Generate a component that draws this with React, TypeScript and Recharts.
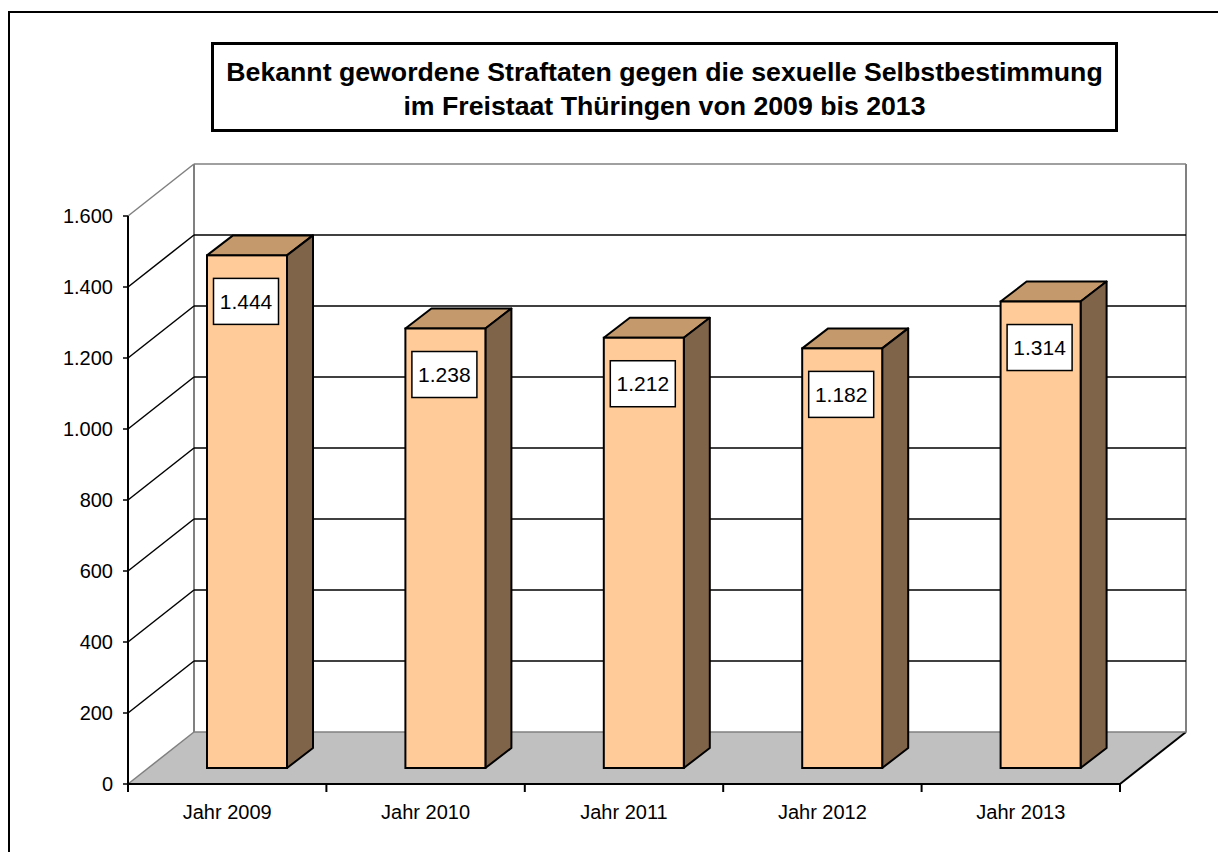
import React from 'react';
import { BarChart, Bar, XAxis, YAxis, CartesianGrid } from 'recharts';

const categories = ['Jahr 2009', 'Jahr 2010', 'Jahr 2011', 'Jahr 2012', 'Jahr 2013'];
const values = [1444, 1238, 1212, 1182, 1314];
const yTicks = [0, 200, 400, 600, 800, 1000, 1200, 1400, 1600];
const titleLines = [
  'Bekannt gewordene Straftaten gegen die sexuelle Selbstbestimmung',
  'im Freistaat Thüringen von 2009 bis 2013',
];

const data = categories.map((name, i) => ({ name, value: values[i] }));

const FONT = "Arial, 'Liberation Sans', sans-serif";
const fmt = (v: number) => String(v).replace(/\B(?=(\d{3})+(?!\d))/g, '.');

// 3D projection constants
const DX = 66; // wall depth
const DY = 52;
const BX = 20; // bar placement inside depth
const BY = 16;
const BDX = 26; // bar depth
const BDY = 20;

const GridLine = (p: any) => {
  const { x1, y1, x2 } = p;
  const pts: number[] = p.horizontalPoints && p.horizontalPoints.length ? p.horizontalPoints : [];
  const bottom = pts.length ? Math.max(...pts) : p.y + p.height;
  const top = pts.length ? Math.min(...pts) : p.y;
  const isBottom = Math.abs(y1 - bottom) < 0.5;
  const isTop = Math.abs(y1 - top) < 0.5;
  const col = isBottom || isTop ? '#808080' : '#000000';
  return (
    <g key={p.key}>
      {isBottom && (
        <g>
          <polygon
            points={`${x1},${y1} ${x2},${y1} ${x2 + DX},${y1 - DY} ${x1 + DX},${y1 - DY}`}
            fill="#C0C0C0"
            stroke="none"
          />
          <line x1={x2} y1={y1} x2={x2 + DX} y2={y1 - DY} stroke="#000" strokeWidth={2} />
          <line x1={x1 + DX} y1={y1 - DY} x2={x1 + DX} y2={top - DY} stroke="#808080" strokeWidth={2} />
          <line x1={x2 + DX} y1={y1 - DY} x2={x2 + DX} y2={top - DY} stroke="#808080" strokeWidth={2} />
        </g>
      )}
      <line x1={x1} y1={y1} x2={x1 + DX} y2={y1 - DY} stroke={col} strokeWidth={1.5} />
      <line x1={x1 + DX} y1={y1 - DY} x2={x2 + DX} y2={y1 - DY} stroke={col} strokeWidth={1.5} />
    </g>
  );
};

const Bar3D = (p: any) => {
  const { x, y, width, height, payload } = p;
  const fx = x + BX;
  const fy = y - BY;
  const v = payload ? payload.value : p.value;
  const cx = fx + width / 2 - 1;
  const boxTop = fy + 23;
  return (
    <g>
      <polygon
        points={`${fx},${fy} ${fx + BDX},${fy - BDY} ${fx + width + BDX},${fy - BDY} ${fx + width},${fy}`}
        fill="#C49A6C"
        stroke="#000"
        strokeWidth={2}
        strokeLinejoin="round"
      />
      <polygon
        points={`${fx + width},${fy} ${fx + width + BDX},${fy - BDY} ${fx + width + BDX},${fy + height - BDY} ${fx + width},${fy + height}`}
        fill="#80644A"
        stroke="#000"
        strokeWidth={2}
        strokeLinejoin="round"
      />
      <rect x={fx} y={fy} width={width} height={height} fill="#FFCC99" stroke="#000" strokeWidth={2} />
      <rect x={cx - 32.5} y={boxTop} width={65} height={46} fill="#FFFFFF" stroke="#000" strokeWidth={1.5} />
      <text
        x={cx}
        y={boxTop + 30.5}
        textAnchor="middle"
        fontSize={21}
        fontFamily={FONT}
        fill="#000"
      >
        {fmt(v)}
      </text>
    </g>
  );
};

const XTick = (p: any) => {
  const { x, y, payload, index } = p;
  const half = payload && payload.offset ? payload.offset : p.width ? p.width / categories.length / 2 : 99.2;
  const ay = y - 8;
  return (
    <g>
      <line x1={x - half} y1={ay} x2={x - half} y2={ay + 8} stroke="#000" strokeWidth={2} />
      {index === categories.length - 1 && (
        <line x1={x + half} y1={ay} x2={x + half} y2={ay + 8} stroke="#000" strokeWidth={2} />
      )}
      <text x={x} y={ay + 35} textAnchor="middle" fontSize={20} fontFamily={FONT} fill="#000">
        {payload.value}
      </text>
    </g>
  );
};

export default function App() {
  return (
    <div
      style={{
        position: 'absolute',
        left: 0,
        top: 0,
        width: 1218,
        height: 852,
        overflow: 'hidden',
        background: '#fff',
      }}
    >
      <div
        style={{
          position: 'absolute',
          left: 8,
          top: 11,
          width: 1400,
          height: 1000,
          borderLeft: '2px solid #000',
          borderTop: '2px solid #000',
          boxSizing: 'border-box',
        }}
      />
      <div
        style={{
          position: 'absolute',
          left: 211,
          top: 42,
          width: 907,
          height: 90,
          border: '3px solid #000',
          boxSizing: 'border-box',
          background: '#fff',
          fontFamily: FONT,
          fontWeight: 'bold',
          fontSize: 26.7,
          lineHeight: '34px',
          textAlign: 'center',
          paddingTop: 10,
          color: '#000',
        }}
      >
        {titleLines.map((t) => (
          <div key={t}>{t}</div>
        ))}
      </div>
      <div style={{ position: 'absolute', left: 0, top: 0 }}>
        <BarChart
          width={1218}
          height={852}
          data={data}
          margin={{ top: 216, right: 98, bottom: 38, left: 68 }}
        >
          <CartesianGrid horizontal={GridLine as any} vertical={false} />
          <XAxis
            dataKey="name"
            interval={0}
            height={30}
            tickSize={8}
            tickMargin={0}
            tickLine={false}
            axisLine={{ stroke: '#000', strokeWidth: 2 }}
            tick={<XTick />}
          />
          <YAxis
            width={60}
            domain={[0, 1600]}
            ticks={yTicks}
            interval={0}
            tickSize={5}
            tickMargin={10}
            tickFormatter={(v: number) => fmt(v)}
            tick={{ fill: '#000', fontSize: 20, fontFamily: FONT }}
            tickLine={{ stroke: '#000', strokeWidth: 1.5 }}
            axisLine={{ stroke: '#000', strokeWidth: 2 }}
          />
          <Bar dataKey="value" barSize={80} shape={<Bar3D />} isAnimationActive={false} />
        </BarChart>
      </div>
    </div>
  );
}
